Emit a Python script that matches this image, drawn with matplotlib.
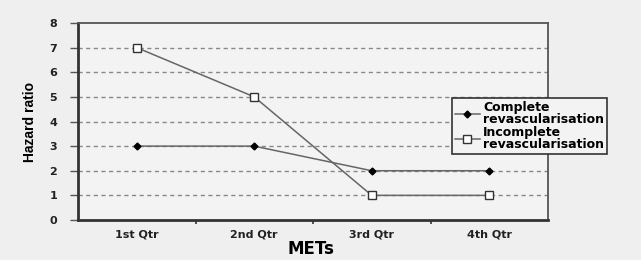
import matplotlib
matplotlib.use("Agg")
import matplotlib.pyplot as plt
from matplotlib.ticker import FixedLocator

categories = ["1st Qtr", "2nd Qtr", "3rd Qtr", "4th Qtr"]
complete = [3, 3, 2, 2]
incomplete = [7, 5, 1, 1]
yticks = [0, 1, 2, 3, 4, 5, 6, 7, 8]

fig = plt.figure(figsize=(6.41, 2.6), dpi=100)
fig.patch.set_facecolor("#efefef")
ax = fig.add_axes([78/641, 1-220/260, (548-78)/641, (220-23)/260])
ax.set_facecolor("#f3f3f3")

x = list(range(len(categories)))
ax.plot(x, complete, color="#666666", lw=1.1, marker="D", ms=3.5,
        mfc="black", mec="black", label="Complete\nrevascularisation", zorder=3)
ax.plot(x, incomplete, color="#666666", lw=1.1, marker="s", ms=6,
        mfc="white", mec="#333333", mew=1.0, label="Incomplete\nrevascularisation", zorder=3)

ax.set_xlim(-0.5, 3.5)
ax.set_ylim(0, 8)
ax.set_yticks(yticks)
ax.set_yticklabels([str(v) for v in yticks], fontsize=8, fontweight="bold", color="#222222")
ax.set_xticks(x)
ax.set_xticklabels(categories, fontsize=8, fontweight="bold", color="#222222")
ax.tick_params(axis="x", length=0, pad=7)
ax.xaxis.set_minor_locator(FixedLocator([0.5, 1.5, 2.5]))
ax.tick_params(axis="x", which="minor", length=3, width=1.2, color="#333333", direction="out")
ax.tick_params(axis="y", length=6, width=1.0, color="#555555", pad=9)

for v in yticks[1:-1]:
    ax.axhline(v, color="#888888", lw=1.0, ls=(0, (3, 2.5)), zorder=1)

for s in ["left", "bottom"]:
    ax.spines[s].set_linewidth(2.0)
    ax.spines[s].set_color("#333333")
for s in ["top", "right"]:
    ax.spines[s].set_linewidth(1.3)
    ax.spines[s].set_color("#555555")

ax.set_ylabel("Hazard ratio", fontsize=10, fontweight="bold", family="Liberation Sans")
ax.yaxis.set_label_coords(-0.087, 0.5)
ax.set_xlabel("METs", fontsize=12, fontweight="bold")
ax.xaxis.set_label_coords(0.496, -0.10)

leg = ax.legend(loc="upper left", bbox_to_anchor=(452/641, 1-98/260), bbox_transform=fig.transFigure,
                frameon=True, fancybox=False, prop={"weight": "bold", "size": 9},
                handlelength=2.0, handletextpad=0.3, borderpad=0.2, labelspacing=0.0,
                borderaxespad=0)
for t in leg.get_texts():
    t.set_linespacing(0.95)
leg.get_frame().set_edgecolor("#333333")
leg.get_frame().set_linewidth(1.2)
leg.get_frame().set_facecolor("#f3f3f3")
leg.get_frame().set_alpha(1)

fig.savefig("out.png", dpi=100, facecolor=fig.get_facecolor())
